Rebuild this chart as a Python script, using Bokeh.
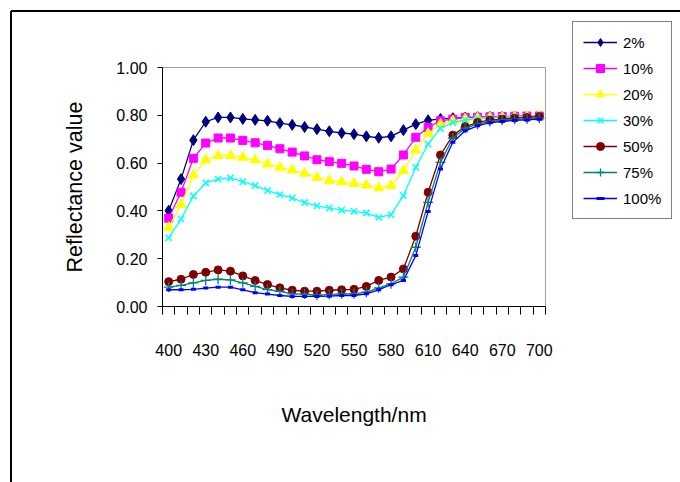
from bokeh.plotting import figure
from bokeh.models import FixedTicker, Legend, LegendItem, NumeralTickFormatter, Range1d, Title
from bokeh.embed import file_html
from bokeh.resources import INLINE

wavelength = list(range(400, 701, 10))

r_2 = [0.401, 0.533, 0.696, 0.773, 0.791, 0.791, 0.785, 0.781, 0.777, 0.767, 0.760,
       0.751, 0.742, 0.733, 0.726, 0.721, 0.712, 0.706, 0.712, 0.738, 0.763, 0.779,
       0.785, 0.788, 0.790, 0.792, 0.793, 0.794, 0.795, 0.795, 0.796]
r_10 = [0.369, 0.478, 0.620, 0.684, 0.705, 0.705, 0.695, 0.685, 0.674, 0.660, 0.646,
        0.630, 0.614, 0.606, 0.599, 0.588, 0.574, 0.564, 0.575, 0.634, 0.708, 0.749,
        0.777, 0.784, 0.791, 0.792, 0.794, 0.795, 0.796, 0.797, 0.797]
r_20 = [0.331, 0.426, 0.550, 0.613, 0.631, 0.631, 0.624, 0.613, 0.596, 0.582, 0.571,
        0.557, 0.540, 0.526, 0.521, 0.515, 0.508, 0.496, 0.506, 0.568, 0.655, 0.724,
        0.763, 0.777, 0.784, 0.788, 0.790, 0.792, 0.793, 0.795, 0.797]
r_30 = [0.287, 0.366, 0.462, 0.517, 0.533, 0.538, 0.522, 0.506, 0.485, 0.468, 0.454,
        0.435, 0.421, 0.412, 0.403, 0.398, 0.391, 0.373, 0.384, 0.464, 0.582, 0.680,
        0.745, 0.770, 0.780, 0.787, 0.789, 0.791, 0.793, 0.794, 0.796]
r_50 = [0.104, 0.114, 0.134, 0.143, 0.153, 0.148, 0.128, 0.109, 0.092, 0.078, 0.068,
        0.064, 0.064, 0.068, 0.070, 0.072, 0.084, 0.109, 0.123, 0.157, 0.294, 0.478,
        0.634, 0.717, 0.752, 0.770, 0.780, 0.784, 0.788, 0.791, 0.795]
r_75 = [0.081, 0.088, 0.099, 0.109, 0.114, 0.111, 0.099, 0.084, 0.071, 0.063, 0.053,
        0.052, 0.047, 0.050, 0.053, 0.053, 0.060, 0.078, 0.095, 0.123, 0.248, 0.436,
        0.603, 0.705, 0.746, 0.763, 0.774, 0.780, 0.783, 0.785, 0.788]
r_100 = [0.070, 0.070, 0.072, 0.077, 0.081, 0.081, 0.070, 0.058, 0.052, 0.046, 0.042,
         0.042, 0.042, 0.043, 0.046, 0.046, 0.053, 0.070, 0.091, 0.109, 0.213, 0.398,
         0.575, 0.687, 0.735, 0.756, 0.769, 0.774, 0.779, 0.781, 0.784]

series_names = ["2%", "10%", "20%", "30%", "50%", "75%", "100%"]
x_tick_labels = list(range(400, 701, 30))
y_ticks = [0.0, 0.2, 0.4, 0.6, 0.8, 1.0]
x_title = "Wavelength/nm"
y_title = "Reflectance value"

FONT = "Liberation Sans"
TOP_LINE = "linear-gradient(black, black)"

# plot-area geometry (pixels) -> the frame extends to the right/top so the
# legend can sit outside the visible plot area without being clipped
W, H = 680, 482
LEFT, BOTTOM = 162, 176
AREA_W, AREA_H = 383, 239          # visible plot area size
X0, X1 = 395, 705                  # category-edge range of the axis
Y0, Y1 = 0.0, 1.0
frame_w = W - LEFT
frame_h = H - BOTTOM
x_end = X0 + (X1 - X0) * frame_w / AREA_W
y_end = Y0 + (Y1 - Y0) * frame_h / AREA_H

p = figure(width=W, height=H, output_backend="svg", toolbar_location=None,
           x_range=Range1d(X0, x_end), y_range=Range1d(Y0, y_end),
           min_border_left=LEFT, min_border_right=0, min_border_top=0,
           min_border_bottom=BOTTOM)
p.xgrid.visible = False
p.ygrid.visible = False
p.outline_line_color = None
p.background_fill_alpha = 0
p.border_fill_alpha = 0
# outer chart-area border (top and left edges visible in the window)
p.styles = {
    "background-color": "white",
    "background-image": TOP_LINE + ", " + TOP_LINE,
    "background-size": "680px 2px, 2px 482px",
    "background-position": "11px 10px, 10px 11px",
    "background-repeat": "no-repeat",
}

# gray top/right border of the plot area
p.segment(x0=[X0, X1], y0=[Y1, Y0], x1=[X1, X1], y1=[Y1, Y1],
          line_color="#a0a0a0", line_width=1)

# x axis
p.xaxis.bounds = (X0, X1)
p.xaxis.ticker = FixedTicker(ticks=x_tick_labels, minor_ticks=list(range(395, 706, 10)))
p.xaxis.major_tick_out = 0
p.xaxis.major_tick_in = 0
p.xaxis.minor_tick_out = 8
p.xaxis.minor_tick_in = 0
p.xaxis.minor_tick_line_color = "black"
p.xaxis.axis_line_color = "black"
p.xaxis.major_label_standoff = 29
p.xaxis.major_label_text_font = FONT
p.xaxis.major_label_text_font_size = "16px"
p.xaxis.major_label_text_color = "black"

# y axis
p.yaxis.bounds = (Y0, Y1)
p.yaxis.ticker = FixedTicker(ticks=y_ticks, minor_ticks=[])
p.yaxis.formatter = NumeralTickFormatter(format="0.00")
p.yaxis.major_tick_out = 5
p.yaxis.major_tick_in = 0
p.yaxis.major_tick_line_color = "black"
p.yaxis.axis_line_color = "black"
p.yaxis.major_label_standoff = 10
p.yaxis.major_label_text_font = FONT
p.yaxis.major_label_text_font_size = "16px"
p.yaxis.major_label_text_color = "black"

# axis titles, centred on the visible plot area
xt = Title(text=x_title, align="left", offset=119, standoff=84,
           text_font=FONT, text_font_size="21px", text_font_style="normal",
           text_color="black")
p.add_layout(xt, "below")
yt = Title(text=y_title, align="left", offset=34, standoff=54,
           text_font=FONT, text_font_size="21.5px", text_font_style="normal",
           text_color="black")
p.add_layout(yt, "left")

items = []

def add(name, ys, color, marker, size, **kw):
    ln = p.line(wavelength, ys, line_color=color, line_width=1.3)
    mk = p.scatter(wavelength, ys, marker=marker, size=size, **kw)
    items.append(LegendItem(label=name, renderers=[ln, mk]))

add(series_names[0], r_2, "#000080", "diamond", 11, fill_color="#000080", line_color="#000080")
add(series_names[1], r_10, "#FF00FF", "square", 8, fill_color="#FF00FF", line_color="#FF00FF")
add(series_names[2], r_20, "#FFFF00", "triangle", 10, fill_color="#FFFF00", line_color="#FFFF00")
add(series_names[3], r_30, "#00FFFF", "x", 9, line_color="#00FFFF", line_width=1.5)
add(series_names[4], r_50, "#800000", "circle", 8, fill_color="#800000", line_color="#800000")
add(series_names[5], r_75, "#008080", "cross", 10, line_color="#008080", line_width=1.3)
add(series_names[6], r_100, "#0000FF", "dash", 5, line_color="#0000FF", line_width=3)

legend = Legend(items=items, location=(410, 87),
                border_line_color="black", border_line_width=1,
                background_fill_color="white", background_fill_alpha=1,
                label_text_font=FONT, label_text_font_size="15px",
                label_text_color="black",
                glyph_width=34, glyph_height=20, label_height=20,
                label_standoff=6, spacing=6, padding=10, margin=0)
p.add_layout(legend, "center")

open("out.html", "w").write(file_html(p, INLINE))
